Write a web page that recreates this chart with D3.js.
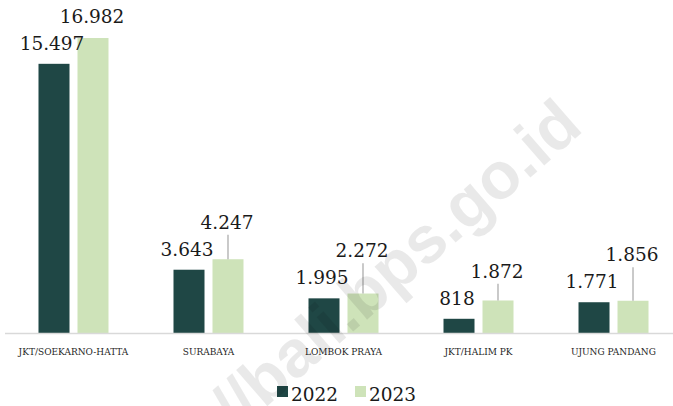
<!DOCTYPE html>
<html>
<head>
<meta charset="utf-8">
<script src="https://cdn.jsdelivr.net/npm/d3@7"></script>
<style>
  html, body { margin: 0; padding: 0; background: #fff; }
  svg { display: block; }
</style>
</head>
<body>
<div id="chart"></div>
<script>
// Domestic departures by destination airport, 2022 vs 2023.

const categories = ['JKT/SOEKARNO-HATTA', 'SURABAYA', 'LOMBOK PRAYA', 'JKT/HALIM PK', 'UJUNG PANDANG'];
const series = ['2022', '2023'];
const values2022 = [15497, 3643, 1995, 818, 1771];
const values2023 = [16982, 4247, 2272, 1872, 1856];
const colors = ['#1f4745', '#cee3b9'];

const W = 673, H = 406;
const baseY = 333;

const fmt = (v) => d3.format(',')(v).replace(/,/g, '.');

const svg = d3.select('#chart').append('svg')
  .attr('width', W).attr('height', H)
  .attr('viewBox', `0 0 ${W} ${H}`);

const rows = categories.map((c, i) => ({ cat: c, vals: [values2022[i], values2023[i]] }));

// scales
const x0 = d3.scaleBand().domain(categories).range([6, 681])
  .paddingInner(0.4815).paddingOuter(0.2407);
const x1 = d3.scaleBand().domain(series).range([0, x0.bandwidth()]).paddingInner(0.205);
const y = d3.scaleLinear().domain([0, 18000]).range([baseY, baseY - 18000 * 0.01737]);

// bars
const groups = svg.append('g').selectAll('g').data(rows).enter().append('g')
  .attr('transform', (d) => `translate(${x0(d.cat)},0)`);

groups.selectAll('rect').data((d) => d.vals.map((v, k) => ({ s: series[k], v, k })))
  .enter().append('rect')
  .attr('x', (d) => x1(d.s))
  .attr('y', (d) => y(d.v))
  .attr('width', x1.bandwidth())
  .attr('height', (d) => baseY - y(d.v))
  .attr('fill', (d) => colors[d.k]);

// baseline
svg.append('line')
  .attr('x1', 5).attr('x2', 681).attr('y1', baseY + 0.5).attr('y2', baseY + 0.5)
  .attr('stroke', '#d9d9d9').attr('stroke-width', 1.5);

// data labels; 2023 labels lifted above the 2022 label with a leader line
const labelFont = "'DejaVu Serif', serif";
rows.forEach((d) => {
  const gx = x0(d.cat);
  const cx0 = gx + x1('2022') + x1.bandwidth() / 2;
  const cx1 = gx + x1('2023') + x1.bandwidth() / 2;
  const b0 = y(d.vals[0]) - 14;
  const top1 = y(d.vals[1]);
  const b1 = Math.min(top1 - 15, b0 - 27);

  if (top1 - b1 > 22) {
    svg.append('line')
      .attr('x1', cx1).attr('x2', cx1)
      .attr('y1', b1 + 6).attr('y2', top1)
      .attr('stroke', '#a6a6a6').attr('stroke-width', 1.2);
  }

  svg.append('text')
    .attr('x', cx0 - 2).attr('y', b0)
    .attr('text-anchor', 'middle')
    .style('font-family', labelFont).style('font-size', '18.5px')
    .style('fill', '#1a1a1a')
    .text(fmt(d.vals[0]));

  svg.append('text')
    .attr('x', cx1 - 1).attr('y', b1)
    .attr('text-anchor', 'middle')
    .style('font-family', labelFont).style('font-size', '18.5px')
    .style('fill', '#1a1a1a')
    .text(fmt(d.vals[1]));
});

// category labels
svg.append('g').selectAll('text').data(categories).enter().append('text')
  .attr('x', (c) => x0(c) + x0.bandwidth() / 2)
  .attr('y', 355)
  .attr('text-anchor', 'middle')
  .style('font-family', labelFont).style('font-size', '9px')
  .style('fill', '#1f1f1f')
  .text((c) => c);

// legend
const legend = svg.append('g').attr('transform', 'translate(277,386)');
const lx = [0, 78];
series.forEach((s, k) => {
  legend.append('rect')
    .attr('x', lx[k]).attr('y', 0).attr('width', 11).attr('height', 11)
    .attr('fill', colors[k]);
  legend.append('text')
    .attr('x', lx[k] + 14).attr('y', 15)
    .style('font-family', labelFont).style('font-size', '18.5px')
    .style('fill', '#1a1a1a')
    .text(s);
});

// watermark
svg.append('text')
  .attr('transform', 'translate(585,130) rotate(-41)')
  .attr('text-anchor', 'end')
  .style('font-family', "'Liberation Sans', Arial, sans-serif")
  .style('font-weight', 'bold').style('font-size', '66px')
  .style('fill', '#000').style('fill-opacity', 0.085)
  .text('https://bali.bps.go.id');
</script>
</body>
</html>
